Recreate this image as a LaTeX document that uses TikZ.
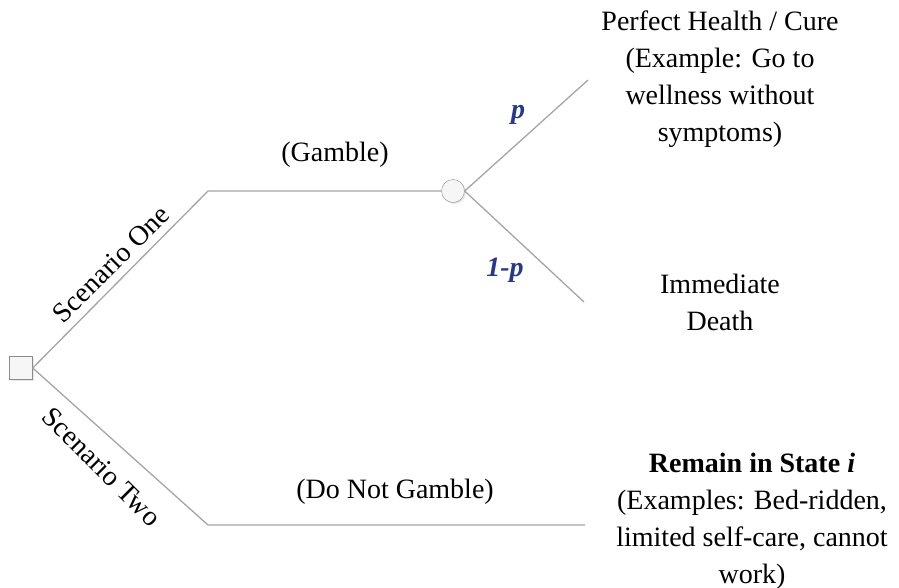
\documentclass[tikz,border=0pt]{standalone}
\usepackage{fontspec}
\setmainfont{Liberation Serif}
\usetikzlibrary{positioning, shadows}

\definecolor{linegray}{RGB}{165,165,165}
\definecolor{boxfill}{RGB}{246,246,246}
\definecolor{probblue}{RGB}{38,56,140}

\begin{document}
\begin{tikzpicture}[x=1pt, y=-1pt]

\tikzstyle{branch} = [draw=linegray, line width=1.3pt]
\tikzstyle{decision} = [rectangle, minimum size=23pt, inner sep=0, draw=linegray!85!black, fill=boxfill, drop shadow={opacity=0.2, shadow xshift=1.5pt, shadow yshift=-1.5pt}]
\tikzstyle{chance} = [circle, minimum size=23pt, inner sep=0, draw=linegray!85!black, fill=boxfill, drop shadow={opacity=0.2, shadow xshift=1.5pt, shadow yshift=-1.5pt}]
\tikzstyle{outcome} = [align=center, inner sep=0, font=\fontsize{28}{37}\selectfont]
\tikzstyle{branchtext} = [inner sep=0, font=\fontsize{28}{37}\selectfont]
\tikzstyle{prob} = [inner sep=0, text=probblue, font=\fontsize{28}{37}\selectfont\bfseries\itshape]

\useasboundingbox (0,0) rectangle (899,587);

% tree nodes
\node (decision)[decision] at (21,368) {};
\coordinate (one) at (208,191);
\coordinate (two) at (208,525);
\node (chance)[chance] at (453,191) {};
\coordinate (cure_end) at (588,80);
\coordinate (death_end) at (584,302);
\coordinate (stay_end) at (585,525);

% outcomes
\node (cure)[outcome] at (720,79) {Perfect Health / Cure\\(Example: Go to\\wellness without\\symptoms)};
\node (death)[outcome] at (720,302) {Immediate\\Death};
\node (stay)[outcome] at (752,521) {\textbf{Remain in State \textit{i}}\\(Examples: Bed-ridden,\\limited self-care, cannot\\work)};

% branch labels
\node (scen_one)[branchtext, rotate=45] at (111,264) {Scenario One};
\node (scen_two)[branchtext, rotate=-45] at (102,467) {Scenario Two};
\node (gamble)[branchtext] at (335,155) {(Gamble)};
\node (no_gamble)[branchtext] at (395,492) {(Do Not Gamble)};
\node (prob_p)[prob] at (518,115) {p};
\node (prob_q)[prob] at (505,270) {1-p};

% branches
\draw[branch] (decision.east) -- (one) -- (chance);
\draw[branch] (decision.east) -- (two) -- (stay_end);
\draw[branch] (chance.east) -- (cure_end);
\draw[branch] (chance.east) -- (death_end);

\end{tikzpicture}
\end{document}
